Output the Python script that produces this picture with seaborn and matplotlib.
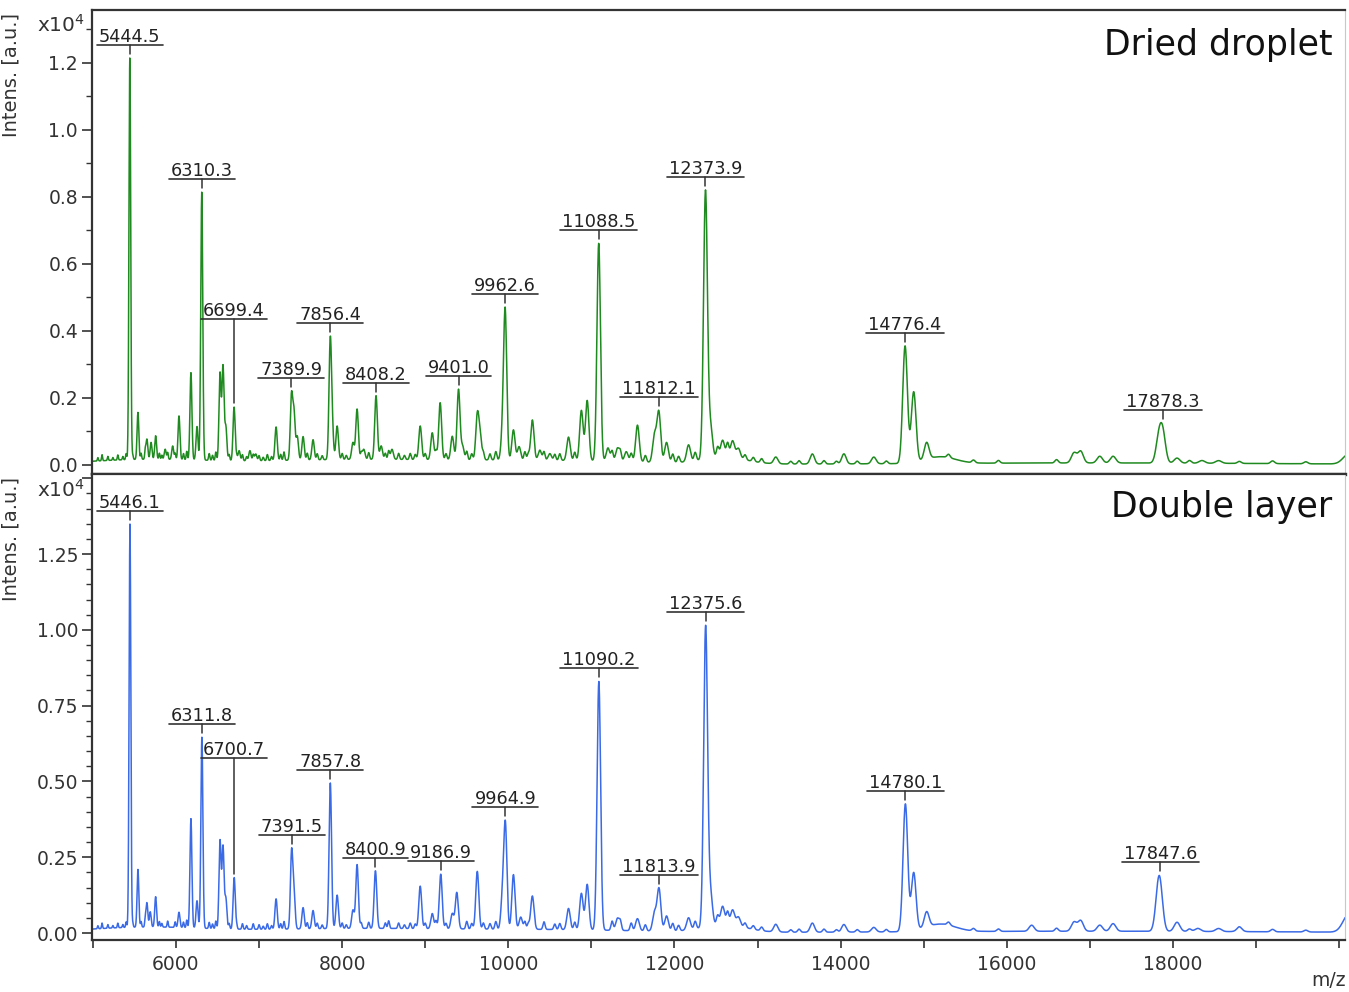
"""Two MALDI spectra (dried droplet vs double layer) stacked on a shared m/z axis."""

import matplotlib
matplotlib.use("Agg")
import matplotlib.pyplot as plt
import numpy as np
import pandas as pd
import seaborn as sns
from matplotlib.ticker import FuncFormatter, MultipleLocator

# peak list, dried droplet (m/z, intensity in 1e4 a.u.)
dd_mz = [5444.5, 5542, 5650, 5700, 5755, 5870, 5960, 6036, 6180, 6253, 6310.3,
         6530, 6566, 6600, 6699.4, 6760, 6890, 6960, 7205, 7389.9, 7420, 7460,
         7530, 7650, 7856.4, 7880, 7940, 8130, 8180, 8260, 8408.2, 8470, 8600,
         8940, 9085, 9180, 9326, 9401.0, 9450, 9627, 9660, 9930, 9962.6, 10062,
         10130, 10290, 10380, 10500, 10725, 10880, 10950, 11088.5, 11200, 11315,
         11420, 11555, 11760, 11812.1, 11905, 12170, 12373.9, 12435, 12580, 12700,
         12770, 13220, 13660, 14040, 14400, 14776.4, 14880, 15036, 16810, 16890,
         17120, 17280, 17830, 17878.3, 18050, 18350, 18550]
dd_int = [1.20, 0.14, 0.06, 0.05, 0.07, 0.03, 0.04, 0.13, 0.26, 0.10, 0.80,
          0.26, 0.28, 0.10, 0.16, 0.03, 0.03, 0.02, 0.10, 0.19, 0.14, 0.07,
          0.07, 0.06, 0.34, 0.09, 0.10, 0.05, 0.15, 0.03, 0.19, 0.04, 0.03,
          0.10, 0.08, 0.17, 0.07, 0.21, 0.04, 0.13, 0.07, 0.07, 0.44, 0.09,
          0.04, 0.12, 0.03, 0.02, 0.07, 0.15, 0.18, 0.65, 0.04, 0.04,
          0.03, 0.11, 0.08, 0.15, 0.06, 0.05, 0.80, 0.09, 0.05, 0.05,
          0.03, 0.02, 0.03, 0.03, 0.02, 0.35, 0.21, 0.05, 0.03, 0.035,
          0.02, 0.02, 0.07, 0.085, 0.015, 0.008, 0.008]

# peak list, double layer
dl_mz = [5446.1, 5542, 5650, 5690, 5755, 6036, 6180, 6253, 6311.8, 6530, 6566,
         6600, 6700.7, 7205, 7391.5, 7420, 7530, 7650, 7857.8, 7940, 8130, 8180,
         8400.9, 8940, 9085, 9186.9, 9326, 9380, 9627, 9930, 9964.9, 10062,
         10150, 10290, 10725, 10880, 10950, 11090.2, 11315, 11555, 11760,
         11813.9, 11905, 12170, 12375.6, 12435, 12580, 12700, 12770, 13220,
         13660, 14040, 14400, 14780.1, 14880, 15036, 16300, 16810, 16890, 17120,
         17280, 17820, 17847.6, 18050, 18300, 18550, 18800]
dl_int = [1.33, 0.19, 0.08, 0.05, 0.10, 0.05, 0.36, 0.09, 0.63, 0.29, 0.27,
          0.10, 0.17, 0.10, 0.25, 0.12, 0.07, 0.06, 0.48, 0.11, 0.06, 0.21,
          0.19, 0.14, 0.05, 0.18, 0.05, 0.12, 0.19, 0.10, 0.34, 0.18,
          0.04, 0.11, 0.07, 0.12, 0.15, 0.82, 0.04, 0.04, 0.06,
          0.14, 0.05, 0.04, 0.99, 0.10, 0.06, 0.05, 0.03, 0.025,
          0.03, 0.025, 0.015, 0.42, 0.19, 0.05, 0.02, 0.03, 0.035, 0.02,
          0.025, 0.09, 0.11, 0.03, 0.01, 0.01, 0.01]

# small baseline wiggles seen in both traces
ripple_mz = [5060, 5110, 5180, 5240, 5300, 5360, 5400, 5480, 5580, 5630, 5800,
             5830, 5900, 5990, 6090, 6130, 6400, 6440, 6480, 6640, 6730, 6800,
             6850, 6930, 7000, 7050, 7100, 7150, 7260, 7300, 7580, 7700, 7760,
             8000, 8050, 8230, 8320, 8520, 8560, 8680, 8750, 8820, 8880, 9000,
             9130, 9250, 9500, 9560, 9700, 9780, 9850, 10200, 10240, 10430,
             10560, 10620, 10800, 11250, 11350, 11480, 11650, 11980, 12050,
             12250, 12520, 12640, 12850, 12950, 13050, 13400, 13500, 13800,
             13950, 14200, 14550, 15300, 15600, 15900, 16600, 18200, 18800,
             19200, 19600]
ripple_int = [0.010, 0.018, 0.012, 0.008, 0.015, 0.010, 0.018, 0.012, 0.018,
              0.025, 0.018, 0.012, 0.020, 0.018, 0.018, 0.025, 0.020, 0.015,
              0.025, 0.018, 0.012, 0.018, 0.012, 0.018, 0.015, 0.010, 0.018,
              0.012, 0.018, 0.025, 0.020, 0.018, 0.012, 0.018, 0.012, 0.018,
              0.020, 0.018, 0.025, 0.018, 0.012, 0.018, 0.015, 0.018, 0.025,
              0.018, 0.025, 0.018, 0.020, 0.018, 0.025, 0.025, 0.018, 0.025,
              0.018, 0.020, 0.025, 0.030, 0.025, 0.025, 0.020, 0.025, 0.018,
              0.025, 0.030, 0.040, 0.015, 0.012, 0.012, 0.008, 0.010, 0.010,
              0.008, 0.008, 0.008, 0.010, 0.008, 0.008, 0.010, 0.008, 0.006,
              0.008, 0.006]

# broad baseline humps (m/z, intensity, width in Da)
hump_mz = [5600, 8000, 10500, 12600, 15200, 17000, 20120]
dd_hump_int = [0.015, 0.015, 0.012, 0.020, 0.020, 0.006, 0.030]
dl_hump_int = [0.018, 0.014, 0.010, 0.025, 0.025, 0.006, 0.060]
hump_w = [700, 1200, 1200, 250, 180, 2500, 70]

dd_labels = ["5444.5", "6310.3", "6699.4", "7389.9", "7856.4", "8408.2",
             "9401.0", "9962.6", "11088.5", "11812.1", "12373.9", "14776.4",
             "17878.3"]
dl_labels = ["5446.1", "6311.8", "6700.7", "7391.5", "7857.8", "8400.9",
             "9186.9", "9964.9", "11090.2", "11813.9", "12375.6", "14780.1",
             "17847.6"]
raised = {"6699.4": 75, "6700.7": 107}  # extra lift in px for crowded labels

RES = 0.0019
RIPPLE_RES = 0.0012
MZ = np.arange(4980, 20090, 2.0)


def spectrum(mz, inten, humps):
    y = np.zeros_like(MZ)
    for m, h in zip(mz, inten):
        y += h * np.exp(-0.5 * ((MZ - m) / (RES * m)) ** 2)
    for m, h in zip(ripple_mz, ripple_int):
        y += h * np.exp(-0.5 * ((MZ - m) / (RIPPLE_RES * m)) ** 2)
    for m, h, w in zip(hump_mz, humps, hump_w):
        y += h * np.exp(-0.5 * ((MZ - m) / w) ** 2)
    return y


def label_peaks(ax, y, labels):
    fig = ax.figure
    renderer = fig.canvas.get_renderer()
    inv = ax.transData.inverted()
    for lab in labels:
        m = float(lab)
        top = y[np.abs(MZ - m) < 25].max()
        px, py = ax.transData.transform((m, top))
        bar_px = py + 13 + raised.get(lab, 0)
        y_bar = inv.transform((px, bar_px))[1]
        y_tip = inv.transform((px, py + 4))[1]
        y_txt = inv.transform((px, bar_px + 3))[1]
        t = ax.text(m, y_txt, lab, ha="center", va="baseline", fontsize=12.8,
                    color="#222222")
        bb = t.get_window_extent(renderer)
        x0 = inv.transform((bb.x0 - 2, bar_px))[0]
        x1 = inv.transform((bb.x1 + 2, bar_px))[0]
        ax.plot([x0, x1], [y_bar, y_bar], color="#333333", lw=1.2)
        ax.plot([m, m], [y_bar, y_tip], color="#333333", lw=1.1)


def style_axis(ax, major, minor, fmt, top_label):
    ax.yaxis.set_major_locator(MultipleLocator(major))
    ax.yaxis.set_minor_locator(MultipleLocator(minor))
    ax.yaxis.set_major_formatter(
        FuncFormatter(lambda v, _: "" if v > top_label + 1e-6 else fmt % v))
    ax.tick_params(axis="y", which="major", length=7, width=1.2, pad=3,
                   labelsize=13.5, colors="#333333")
    ax.tick_params(axis="y", which="minor", length=4, width=1.0, colors="#333333")
    for side in ("left", "bottom", "top"):
        ax.spines[side].set_color("#333333")
        ax.spines[side].set_linewidth(1.6)
    ax.spines["right"].set_color("#c8c8c8")
    ax.set_ylabel("Intens. [a.u.]", fontsize=14, color="#333333")
    ax.yaxis.set_label_coords(-0.057, 0.86)
    ax.text(-0.006, 0.967, r"x10$^4$", transform=ax.transAxes, ha="right",
            va="center", fontsize=14.5, color="#333333")


def main():
    sns.set_style("ticks")
    dd = spectrum(dd_mz, dd_int, dd_hump_int)
    dl = spectrum(dl_mz, dl_int, dl_hump_int)
    df_dd = pd.DataFrame({"mz": MZ, "intensity": dd})
    df_dl = pd.DataFrame({"mz": MZ, "intensity": dl})

    fig = plt.figure(figsize=(13.49, 9.92), dpi=100)
    ax_top = fig.add_axes([92 / 1349, 1 - 474 / 992, 1253 / 1349, 464 / 992])
    ax_bot = fig.add_axes([92 / 1349, 1 - 940 / 992, 1253 / 1349, 466 / 992],
                          sharex=ax_top)

    sns.lineplot(data=df_dd, x="mz", y="intensity", ax=ax_top, color="#1f8a1f",
                 lw=1.1, sort=False)
    sns.lineplot(data=df_dl, x="mz", y="intensity", ax=ax_bot, color="#3a6ae6",
                 lw=1.1, sort=False)

    ax_top.set_xlim(4989, 20072)
    ax_top.set_ylim(-0.027, 1.358)
    ax_bot.set_ylim(-0.023, 1.514)

    style_axis(ax_top, 0.2, 0.1, "%.1f", 1.2)
    style_axis(ax_bot, 0.25, 0.05, "%.2f", 1.25)
    ax_top.tick_params(axis="x", bottom=False, labelbottom=False)
    ax_top.set_xlabel("")
    ax_bot.set_xlabel("")
    ax_top.spines["bottom"].set_linewidth(2.4)

    ax_bot.xaxis.set_major_locator(MultipleLocator(2000))
    ax_bot.xaxis.set_minor_locator(MultipleLocator(1000))
    ax_bot.xaxis.set_major_formatter(
        FuncFormatter(lambda v, _: "" if v > 19000 else "%d" % v))
    ax_bot.tick_params(axis="x", which="both", length=6, width=1.2, pad=5,
                       labelsize=13.5, colors="#333333")

    ax_top.text(0.990, 0.925, "Dried droplet", transform=ax_top.transAxes,
                ha="right", va="center", fontsize=25, color="#111111")
    ax_bot.text(0.990, 0.929, "Double layer", transform=ax_bot.transAxes,
                ha="right", va="center", fontsize=25, color="#111111")
    fig.text(1346 / 1349, 12 / 992, "m/z", ha="right", va="center",
             fontsize=13.5, color="#333333")

    fig.canvas.draw()
    label_peaks(ax_top, dd, dd_labels)
    label_peaks(ax_bot, dl, dl_labels)

    fig.savefig("out.png", dpi=100)
    plt.close(fig)


if __name__ == "__main__":
    main()
